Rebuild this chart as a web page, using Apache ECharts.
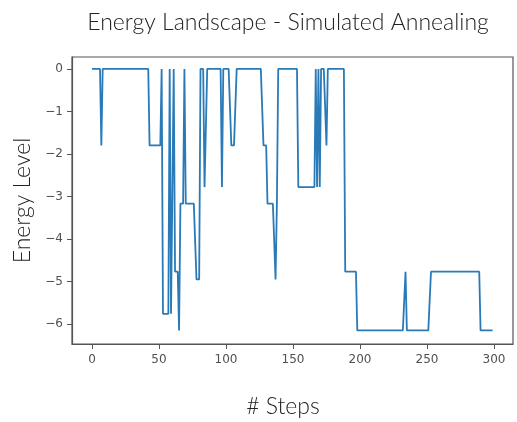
<!DOCTYPE html>
<html>
<head>
<meta charset="utf-8">
<script src="https://cdn.jsdelivr.net/npm/echarts@6/dist/echarts.min.js"></script>
<style>
html,body{margin:0;padding:0;background:#fff;}
#chart{width:517px;height:422px;}
</style>
</head>
<body>
<div id="chart"></div>
<script>
// Energy level at each step (step index = position in array)
var energy = [
  0,0,0,0,0,0,0,-1.8,0,0,
  0,0,0,0,0,0,0,0,0,0,
  0,0,0,0,0,0,0,0,0,0,
  0,0,0,0,0,0,0,0,0,0,
  0,0,0,-1.8,-1.8,-1.8,-1.8,-1.8,-1.8,-1.8,
  -1.8,-1.8,0,-5.76,-5.76,-5.76,-5.76,-5.76,0,-5.76,
  -5.76,0,-4.77,-4.77,-4.77,-6.15,-3.17,-3.17,-3.17,0,
  -3.17,-3.17,-3.17,-3.17,-3.17,-3.17,-3.17,-3.17,-4.95,-4.95,
  -4.95,0,0,0,-2.78,-2.78,0,0,0,0,
  0,0,0,0,0,0,0,-2.78,0,0,
  0,0,0,0,-1.8,-1.8,-1.8,-1.8,0,0,
  0,0,0,0,0,0,0,0,0,0,
  0,0,0,0,0,0,0,0,-1.8,-1.8,
  -1.8,-3.17,-3.17,-3.17,-3.17,-3.17,-3.17,-4.95,-3.17,0,
  0,0,0,0,0,0,0,0,0,0,
  0,0,0,0,-2.78,-2.78,-2.78,-2.78,-2.78,-2.78,
  -2.78,-2.78,-2.78,-2.78,-2.78,-2.78,-2.78,0,-2.78,0,
  -2.78,0,0,0,0,-1.8,0,0,0,0,
  0,0,0,0,0,0,0,0,0,-4.77,
  -4.77,-4.77,-4.77,-4.77,-4.77,-4.77,-4.77,-4.77,-6.15,-6.15,
  -6.15,-6.15,-6.15,-6.15,-6.15,-6.15,-6.15,-6.15,-6.15,-6.15,
  -6.15,-6.15,-6.15,-6.15,-6.15,-6.15,-6.15,-6.15,-6.15,-6.15,
  -6.15,-6.15,-6.15,-6.15,-6.15,-6.15,-6.15,-6.15,-6.15,-6.15,
  -6.15,-6.15,-6.15,-6.15,-4.77,-6.15,-6.15,-6.15,-6.15,-6.15,
  -6.15,-6.15,-6.15,-6.15,-6.15,-6.15,-6.15,-6.15,-6.15,-6.15,
  -6.15,-6.15,-6.15,-4.77,-4.77,-4.77,-4.77,-4.77,-4.77,-4.77,
  -4.77,-4.77,-4.77,-4.77,-4.77,-4.77,-4.77,-4.77,-4.77,-4.77,
  -4.77,-4.77,-4.77,-4.77,-4.77,-4.77,-4.77,-4.77,-4.77,-4.77,
  -4.77,-4.77,-4.77,-4.77,-4.77,-4.77,-4.77,-4.77,-4.77,-4.77,
  -6.15,-6.15,-6.15,-6.15,-6.15,-6.15,-6.15,-6.15,-6.15,-6.15
];
var xTicks = [0, 50, 100, 150, 200, 250, 300];
var yTicks = [0, -1, -2, -3, -4, -5, -6];
var titleText = 'Energy Landscape - Simulated Annealing';
var xName = '# Steps';
var yName = 'Energy Level';

var points = energy.map(function (v, i) { return [i, v]; });
function fmt(v) { return v < 0 ? '\u2212' + Math.abs(v) : String(v); }

var chart = echarts.init(document.getElementById('chart'), null, {renderer: 'canvas'});
var tickFont = {fontFamily: 'DejaVu Sans', fontSize: 12, color: '#505050'};
var nameFont = {fontFamily: 'Lato', fontWeight: 300, fontSize: 23, color: '#222'};
chart.setOption({
  animation: false,
  backgroundColor: '#fff',
  title: {
    text: titleText,
    left: 283, top: 6, textAlign: 'center',
    textStyle: nameFont
  },
  graphic: [{
    type: 'text', x: 283, y: 407,
    style: Object.assign({text: xName, align: 'center', verticalAlign: 'middle'}, {font: '300 23px Lato', fill: '#222'})
  }],
  grid: {left: 72, top: 57, width: 441, height: 287, show: true, borderColor: '#555', borderWidth: 1.2, containLabel: false},
  xAxis: {
    type: 'value', min: -14.9, max: 314.2,
    axisLine: {show: true, onZero: false, lineStyle: {color: '#555', width: 1.2}},
    axisTick: {show: true, length: 5, customValues: xTicks, lineStyle: {color: '#555'}},
    axisLabel: Object.assign({margin: 10, customValues: xTicks, formatter: fmt}, tickFont),
    splitLine: {show: false}
  },
  yAxis: {
    type: 'value', min: -6.47, max: 0.28,
    name: yName, nameLocation: 'middle', nameGap: 38, nameRotate: 90,
    nameTextStyle: nameFont,
    axisLine: {show: true, onZero: false, lineStyle: {color: '#555', width: 1.2}},
    axisTick: {show: true, length: 5, customValues: yTicks, lineStyle: {color: '#555'}},
    axisLabel: Object.assign({margin: 9, customValues: yTicks, formatter: fmt}, tickFont),
    splitLine: {show: false}
  },
  series: [{
    type: 'line',
    data: points,
    showSymbol: false,
    symbol: 'none',
    lineStyle: {color: '#2a7ab8', width: 1.8},
    emphasis: {disabled: true}
  }]
});
</script>
</body>
</html>
